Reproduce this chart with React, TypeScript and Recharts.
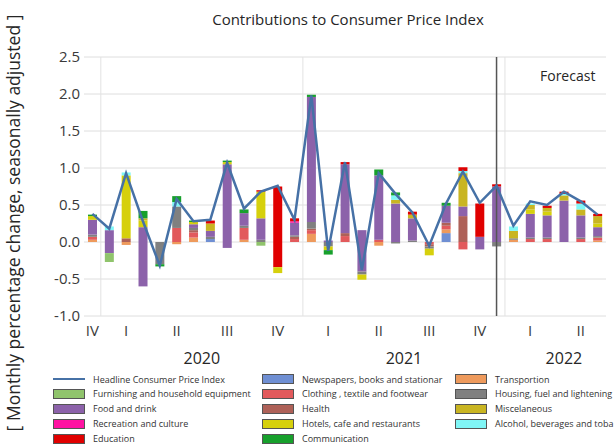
import { ComposedChart, Bar, Line, XAxis, YAxis, CartesianGrid, ReferenceLine } from 'recharts';

const months = [
  'Dec 2019',
  'Jan 2020', 'Feb 2020', 'Mar 2020', 'Apr 2020', 'May 2020', 'Jun 2020',
  'Jul 2020', 'Aug 2020', 'Sep 2020', 'Oct 2020', 'Nov 2020', 'Dec 2020',
  'Jan 2021', 'Feb 2021', 'Mar 2021', 'Apr 2021', 'May 2021', 'Jun 2021',
  'Jul 2021', 'Aug 2021', 'Sep 2021', 'Oct 2021', 'Nov 2021', 'Dec 2021',
  'Jan 2022', 'Feb 2022', 'Mar 2022', 'Apr 2022', 'May 2022', 'Jun 2022',
];

// headline CPI, monthly % change
const headline = [
  0.38, 0.18, 0.93, 0.28, -0.32, 0.58, 0.28, 0.30, 1.07, 0.45,
  0.68, 0.76, 0.30, 1.98, -0.12, 1.08, -0.38, 0.93, 0.65, 0.40,
  -0.05, 0.52, 0.95, 0.53, 0.76, 0.22, 0.55, 0.50, 0.68, 0.55, 0.37,
];

// contributions (percentage points)
const furnishing = [
  0, -0.12, 0, 0, 0, 0, 0, 0, 0, 0,
  -0.05, 0, 0, 0, 0, 0, 0, 0, 0, 0,
  0, 0, 0, 0, 0, 0, 0, 0, 0, 0, 0,
];
const foodDrink = [
  0.2, 0.16, 0, 0.2, 0, 0, 0.05, 0.08, 1.05, 0.17,
  0.29, 0, 0.17, 1.69, 0.02, 0.93, 0.16, 0.87, 0.52, 0.3,
  0, 0.23, 0.13, 0.07, 0.75, 0, 0.32, 0.3, 0.56, 0.3, 0.12,
];
// part of food and drink drawn below zero in the same column
const foodDrinkBelowZero = [
  0, -0.15, 0, -0.6, 0, 0, 0, 0, -0.08, 0,
  0, 0, 0, 0, 0, 0, -0.4, 0, 0, 0,
  0, 0, 0, -0.1, 0, 0, 0, 0, 0, 0, 0,
];
const recreation = [
  0, 0, 0, 0, 0, 0, 0, 0, 0, 0,
  0, 0, 0.02, 0, 0, 0, 0, 0, 0, 0,
  0, 0, 0, 0, 0, 0, 0, 0, 0, 0, 0,
];
const education = [
  0, 0, 0, 0, 0, 0, 0, 0.04, 0, 0,
  0.02, 0.75, 0.04, 0, 0, 0.03, 0, 0, 0, 0.04,
  0, 0, 0.05, 0.45, 0.03, 0, 0, 0.03, 0.03, 0.04, 0.03,
];
const educationBelowZero = [
  0, 0, 0, 0, 0, 0, 0, 0, 0, 0,
  0, -0.34, 0, 0, 0, 0, 0, 0, 0, 0,
  0, 0, 0, 0, 0, 0, 0, 0, 0, 0, 0,
];
const newspapers = [
  0, 0, 0, 0, 0, 0, 0, 0.04, 0, 0,
  0, 0, 0, 0, 0, 0, 0, 0, 0, 0,
  0, 0.12, 0, 0, 0, 0, 0, 0, 0, 0, 0,
];
const clothing = [
  0.04, 0, 0, 0, 0, 0.19, 0.07, 0, 0, 0.16,
  0, 0, 0.04, 0.05, 0, 0.08, 0, 0.03, 0, 0,
  -0.03, 0.05, -0.1, 0, 0, 0, 0.04, 0.04, 0, 0.04, 0.04,
];
const health = [
  0, 0, 0.05, 0, 0, 0, 0.03, 0, 0, 0,
  0, 0, 0.03, 0.02, 0, 0.04, 0, 0, 0, 0,
  -0.03, 0.04, 0.35, 0, 0, 0, 0, 0, 0, 0, 0,
];
const hotels = [
  0.05, 0, 0.85, 0.09, 0, 0, 0.03, 0, 0.03, 0,
  0.36, -0.08, 0, 0, -0.05, 0, -0.07, 0, 0, 0,
  -0.09, 0, 0, 0, 0, 0, 0.06, 0.05, 0, 0, 0.05,
];
const communication = [
  0.02, 0, 0, 0.1, -0.03, 0.08, 0.02, 0, 0.02, 0.05,
  0, 0, 0, 0.03, -0.06, 0, 0, 0.08, 0.04, 0,
  0, 0.04, 0, 0, 0, 0, 0, 0, 0, 0, 0,
];
const transport = [
  0.03, 0, -0.04, 0, 0, -0.03, 0.06, 0, 0, 0.03,
  0, 0, 0, 0.11, 0, 0, 0, -0.05, 0, 0,
  0, 0.05, 0, 0, 0, 0.03, 0, 0, 0, 0, 0.02,
];
const housing = [
  0.03, 0, 0, 0, -0.3, 0.29, 0.03, 0.03, 0, 0.03,
  0.03, 0, 0.02, 0.09, -0.06, 0, -0.04, 0, -0.02, 0.02,
  -0.03, 0, 0, 0, -0.06, 0.02, 0.02, 0.02, 0, 0.02, 0.02,
];
const miscellaneous = [
  0, 0, 0, 0.03, 0, 0, 0, 0.1, 0, 0,
  0, 0, 0, 0, 0, 0, 0, 0, 0.05, 0.05,
  0, 0, 0.45, 0, 0, 0.1, 0.06, 0.05, 0.07, 0.08, 0.1,
];
const alcohol = [
  0, 0.05, 0.04, 0, 0, 0.06, 0, 0, 0, 0,
  0, 0, 0, 0, 0, 0, 0, 0, 0.06, 0,
  0, 0, 0.03, 0, 0, 0.06, 0.02, 0, 0.02, 0.08, 0,
];

const quarterLabels = ['IV', 'I', 'II', 'III', 'IV', 'I', 'II', 'III', 'IV', 'I', 'II'];
const quarterLabelMonths = [
  'Dec 2019', 'Feb 2020', 'May 2020', 'Aug 2020', 'Nov 2020',
  'Feb 2021', 'May 2021', 'Aug 2021', 'Nov 2021', 'Feb 2022', 'May 2022',
];
const yearLabels = ['2020', '2021', '2022'];
const yearLabelMonths = ['Jun 2020', 'Jun 2021', 'Apr 2022'];
const yearLabelSide = ['end', 'end', 'middle'];

const yTicks = [-1, -0.5, 0, 0.5, 1, 1.5, 2, 2.5];

// stacking order: bottom -> top (and nearest zero -> furthest for negatives)
const series = [
  { key: 'foodBelow', name: 'Food and drink', color: '#8c62aa', values: foodDrinkBelowZero },
  { key: 'eduBelow', name: 'Education', color: '#e00000', values: educationBelowZero },
  { key: 'newspapers', name: 'Newspapers, books and stationar', color: '#6f8fd3', values: newspapers },
  { key: 'transport', name: 'Transportion', color: '#ee9a5c', values: transport },
  { key: 'clothing', name: 'Clothing , textile and footwear', color: '#e25a5c', values: clothing },
  { key: 'health', name: 'Health', color: '#ae6158', values: health },
  { key: 'housing', name: 'Housing, fuel and lightening', color: '#808080', values: housing },
  { key: 'food', name: 'Food and drink', color: '#8c62aa', values: foodDrink },
  { key: 'furnishing', name: 'Furnishing and household equipment', color: '#90c46c', values: furnishing },
  { key: 'recreation', name: 'Recreation and culture', color: '#ff12a2', values: recreation },
  { key: 'hotels', name: 'Hotels, cafe and restaurants', color: '#d6d00c', values: hotels },
  { key: 'misc', name: 'Miscelaneous', color: '#c9b522', values: miscellaneous },
  { key: 'alcohol', name: 'Alcohol, beverages and toba', color: '#80f6f6', values: alcohol },
  { key: 'communication', name: 'Communication', color: '#17a02c', values: communication },
  { key: 'education', name: 'Education', color: '#e00000', values: education },
];

const data = months.map((month, i) => {
  const row: any = { month, headline: headline[i] };
  series.forEach((s) => {
    row[s.key] = s.values[i];
  });
  return row;
});

const legendColumns = [
  [
    { name: 'Headline Consumer Price Index', color: '#4671a6', line: true },
    { name: 'Furnishing and household equipment', color: '#90c46c' },
    { name: 'Food and drink', color: '#8c62aa' },
    { name: 'Recreation and culture', color: '#ff12a2' },
    { name: 'Education', color: '#e00000' },
  ],
  [
    { name: 'Newspapers, books and stationar', color: '#6f8fd3' },
    { name: 'Clothing , textile and footwear', color: '#e25a5c' },
    { name: 'Health', color: '#ae6158' },
    { name: 'Hotels, cafe and restaurants', color: '#d6d00c' },
    { name: 'Communication', color: '#17a02c' },
  ],
  [
    { name: 'Transportion', color: '#ee9a5c' },
    { name: 'Housing, fuel and lightening', color: '#808080' },
    { name: 'Miscelaneous', color: '#c9b522' },
    { name: 'Alcohol, beverages and toba', color: '#80f6f6' },
  ],
];
const legendLeft = [53, 262, 455];

const FONT = '"Open Sans", sans-serif';

const MonthTick = ({ x, y, payload }: any) => {
  const qi = quarterLabelMonths.indexOf(payload.value);
  const yi = yearLabelMonths.indexOf(payload.value);
  const half = payload.offset ?? 8.4;
  return (
    <g>
      {qi >= 0 && (
        <text x={x} y={y} dy={20} textAnchor="middle" fontSize={15} fill="#3a3a3a" fontFamily={FONT}>
          {quarterLabels[qi]}
        </text>
      )}
      {yi >= 0 && (
        <text
          x={yearLabelSide[yi] === 'end' ? x + half : x}
          y={y}
          dy={48}
          textAnchor="middle"
          fontSize={16}
          fill="#262626"
          fontFamily={FONT}
        >
          {yearLabels[yi]}
        </text>
      )}
    </g>
  );
};

export default function App() {
  return (
    <div style={{ position: 'absolute', left: 0, top: 0, width: 616, height: 446, background: '#fff', fontFamily: FONT }}>
      <div style={{ position: 'absolute', left: 148, top: 9, width: 400, textAlign: 'center', fontSize: 15, color: '#262626', lineHeight: '20px' }}>
        Contributions to Consumer Price Index
      </div>
      <div
        style={{
          position: 'absolute',
          left: 13 - 230,
          top: 223 - 11,
          width: 460,
          height: 22,
          lineHeight: '22px',
          textAlign: 'center',
          fontSize: 17.5,
          color: '#262626',
          transform: 'rotate(-90deg)',
          whiteSpace: 'nowrap',
        }}
      >
        [ Monthly percentage change, seasonally adjusted ]
      </div>

      <ComposedChart
        width={616}
        height={446}
        data={data}
        stackOffset="sign"
        margin={{ top: 57, right: 10, left: 0, bottom: 90 }}
        barSize={9}
      >
        <CartesianGrid vertical={false} stroke="#dedede" />
        <XAxis
          dataKey="month"
          interval={0}
          tick={<MonthTick />}
          tickLine={false}
          axisLine={false}
          tickSize={0}
          tickMargin={0}
          height={40}
        />
        <YAxis
          type="number"
          domain={[-1, 2.5]}
          ticks={yTicks}
          tickFormatter={(v: number) => v.toFixed(1)}
          width={84}
          tickLine={false}
          axisLine={false}
          tickSize={0}
          tickMargin={4}
          tick={{ fontSize: 15, fill: '#3a3a3a', fontFamily: FONT }}
        />
        <ReferenceLine x="Dec 2019" position="end" stroke="#e2e2e2" />
        <ReferenceLine x="Dec 2020" position="end" stroke="#e2e2e2" />
        <ReferenceLine x="Dec 2021" position="end" stroke="#e2e2e2" />
        {series.map((s) => (
          <Bar key={s.key} dataKey={s.key} name={s.name} stackId="cpi" fill={s.color} isAnimationActive={false} />
        ))}
        <ReferenceLine x="Dec 2021" position="middle" stroke="#555" strokeWidth={1.5} />
        <Line
          type="linear"
          dataKey="headline"
          stroke="#4671a6"
          strokeWidth={2.5}
          dot={false}
          isAnimationActive={false}
        />
      </ComposedChart>

      <div style={{ position: 'absolute', left: 540, top: 66, fontSize: 14, color: '#262626', lineHeight: '20px' }}>Forecast</div>

      {legendColumns.map((col, ci) =>
        col.map((item, ri) => (
          <div
            key={item.name + ci}
            style={{
              position: 'absolute',
              left: legendLeft[ci],
              top: 372 + ri * 14.9,
              height: 14,
              display: 'flex',
              alignItems: 'center',
              fontSize: 9,
              color: '#333',
              whiteSpace: 'nowrap',
            }}
          >
            {item.line ? (
              <div style={{ width: 32, height: 2, background: item.color, marginRight: 8 }} />
            ) : (
              <div style={{ width: 30, height: 8, background: item.color, border: '1px solid #555', marginRight: 8 }} />
            )}
            <span>{item.name}</span>
          </div>
        ))
      )}
    </div>
  );
}
